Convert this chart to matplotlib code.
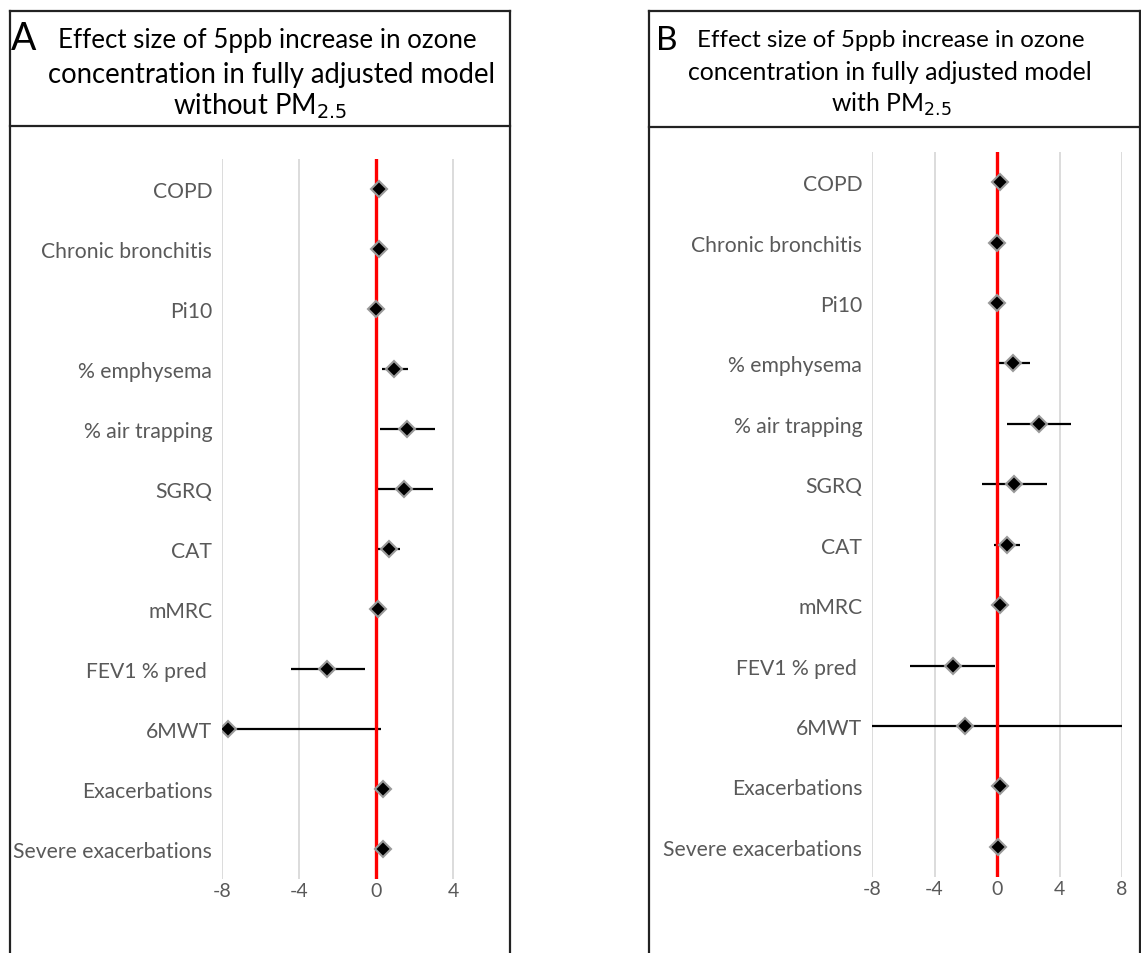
import numpy as np
import matplotlib.pyplot as plt
from matplotlib.lines import Line2D

plt.rcParams['font.family'] = ['Lato', 'DejaVu Sans']

W, H = 1141, 954

outcomes = ["COPD", "Chronic bronchitis", "Pi10", "% emphysema", "% air trapping", "SGRQ",
            "CAT", "mMRC", "FEV1 % pred ", "6MWT", "Exacerbations", "Severe exacerbations"]

# panel A - without PM2.5
est_a = [0.17, 0.15, -0.02, 0.95, 1.59, 1.45, 0.68, 0.09, -2.53, -7.7, 0.35, 0.35]
low_a = [0.12, 0.10, -0.07, 0.31, 0.19, 0.00, 0.09, 0.04, -4.42, -15.0, 0.30, 0.30]
high_a = [0.22, 0.20, 0.03, 1.65, 3.08, 2.98, 1.25, 0.14, -0.57, 0.26, 0.40, 0.40]

# panel B - with PM2.5
est_b = [0.16, -0.03, -0.01, 1.01, 2.68, 1.06, 0.63, 0.16, -2.81, -2.06, 0.22, 0.07]
low_b = [0.11, -0.08, -0.06, 0.12, 0.65, -0.97, -0.22, 0.11, -5.56, -8.0, 0.17, 0.02]
high_b = [0.21, 0.02, 0.04, 2.08, 4.76, 3.19, 1.49, 0.21, -0.14, 8.05, 0.27, 0.12]

ticks_a = [-8, -4, 0, 4]
ticks_b = [-8, -4, 0, 4, 8]


def px_axes(fig, left, top, right, bottom):
    return fig.add_axes([left / W, 1 - bottom / H, (right - left) / W, (bottom - top) / H])


def draw_panel(ax, est, low, high, ticks, xlim):
    y = np.arange(len(outcomes))
    for t in ticks:
        ax.axvline(t, color='#d9d9d9', lw=1.3, zorder=0)
    ax.hlines(y, low, high, color='black', lw=1.6, zorder=2)
    ax.axvline(0, color='#ff0000', lw=2.4, zorder=3)
    ax.plot(est, y, 'D', color='black', markersize=8.5, markeredgecolor='#9a9a9a',
            markeredgewidth=1.5, zorder=4)
    ax.set_xlim(xlim)
    ax.set_ylim(len(outcomes) - 0.5, -0.5)
    ax.set_xticks(ticks)
    ax.set_xticklabels([str(t) for t in ticks])
    ax.set_yticks(y)
    ax.set_yticklabels(outcomes)
    ax.tick_params(axis='y', length=0, pad=7, labelsize=15.2, labelcolor='#595959')
    ax.tick_params(axis='x', length=0, pad=2, labelsize=14, labelcolor='#595959')
    for s in ax.spines.values():
        s.set_visible(False)
    ax.patch.set_alpha(0)


def box_line(fig, xs, ys):
    fig.add_artist(Line2D([x / W for x in xs], [1 - v / H for v in ys],
                          transform=fig.transFigure, color='#222222', lw=1.6))


fig = plt.figure(figsize=(W / 100, H / 100), dpi=100)

ax_a = px_axes(fig, 222, 160, 510, 880)
draw_panel(ax_a, est_a, low_a, high_a, ticks_a, (-8, 6.96))

ax_b = px_axes(fig, 872, 153, 1122, 878)
draw_panel(ax_b, est_b, low_b, high_b, ticks_b, (-8, 8))

# panel frames
box_line(fig, [10, 10], [12, 954])
box_line(fig, [510, 510], [12, 954])
box_line(fig, [10, 510], [12, 12])
box_line(fig, [10, 510], [126.5, 126.5])
box_line(fig, [649, 649], [12, 954])
box_line(fig, [1140, 1140], [12, 954])
box_line(fig, [649, 1140], [12, 12])
box_line(fig, [649, 1140], [128, 128])

# titles
fig.text(11 / W, 1 - 50 / H, "A", fontsize=27, color='black', va='baseline', ha='left')
fig.text(58 / W, 1 - 48 / H, "Effect size of 5ppb increase in ozone", fontsize=18.6,
         va='baseline', ha='left')
fig.text(272 / W, 1 - 83 / H, "concentration in fully adjusted model", fontsize=19.8,
         va='baseline', ha='center')
fig.text(260 / W, 1 - 114 / H, "without PM$_{2.5}$", fontsize=19.8, va='baseline', ha='center')

fig.text(656 / W, 1 - 50 / H, "B", fontsize=24, color='black', va='baseline', ha='left')
fig.text(697 / W, 1 - 47 / H, "Effect size of 5ppb increase in ozone", fontsize=17.3,
         va='baseline', ha='left')
fig.text(890 / W, 1 - 80 / H, "concentration in fully adjusted model", fontsize=17.8,
         va='baseline', ha='center')
fig.text(891 / W, 1 - 112 / H, "with PM$_{2.5}$", fontsize=17.8, va='baseline', ha='center')

fig.savefig("out.png", dpi=100)
